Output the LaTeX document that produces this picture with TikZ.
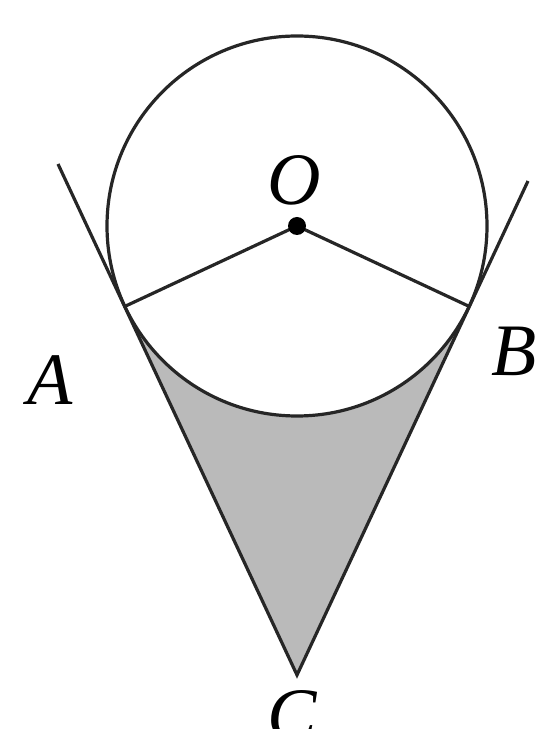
\documentclass[tikz,border=0pt]{standalone}
\usepackage{fontspec}
\setmainfont{Liberation Serif}
\begin{document}
\begin{tikzpicture}[x=0.5pt,y=0.5pt,
  geo/.style={line width=1.6pt,black!85},
  lbl/.style={font=\fontsize{37}{40}\selectfont\itshape,inner sep=0pt}]
\useasboundingbox (0,0) rectangle (543,729);
\coordinate (O) at (297,503);
\coordinate (A) at (124.84,422.59);
\coordinate (B) at (469.16,422.59);
\coordinate (C) at (297,54);
\coordinate (AE) at (58,565);
\coordinate (BE) at (528,548);
% shaded region
\fill[black!27] (C) -- (A) arc[start angle=205.03,end angle=334.97,radius=95pt] -- cycle;
% circle
\draw[geo] (O) circle[radius=95pt];
% tangents
\draw[geo] (AE) -- (C) -- (BE);
% radii
\draw[geo] (A) -- (O) -- (B);
\fill (O) circle[radius=4.5pt];
% labels
\node[lbl] (lO) at (294,549) {O};
\node[lbl] (lA) at (50,349) {A};
\node[lbl] (lB) at (514,378) {B};
\node[lbl] (lC) at (292,14) {C};
\end{tikzpicture}
\end{document}
